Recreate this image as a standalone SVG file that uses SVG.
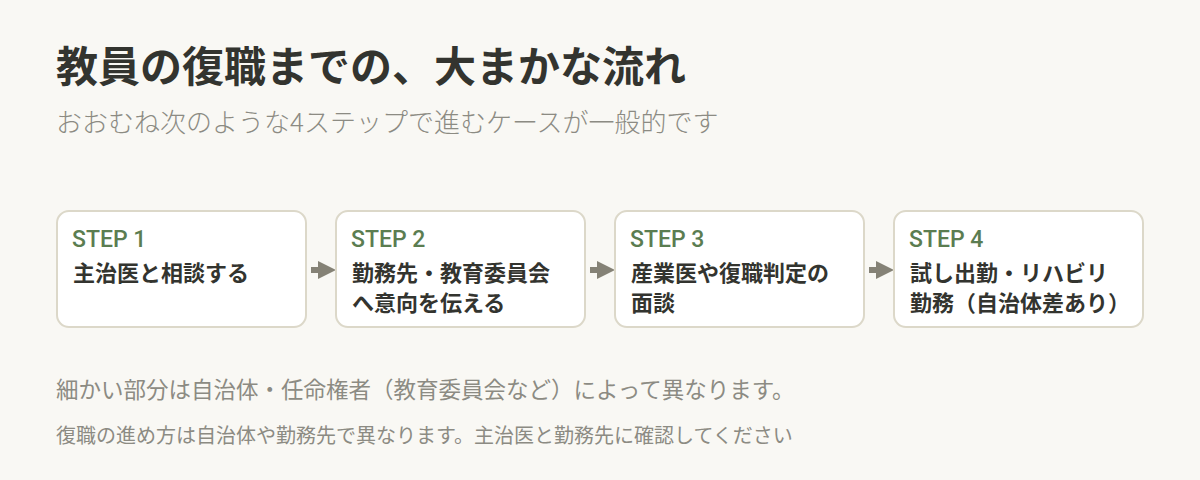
<svg xmlns="http://www.w3.org/2000/svg" width="1200" height="480" viewBox="0 0 1200 480">
<style>
  text { font-family: "Noto Sans CJK JP", "Noto Sans", sans-serif; }
  .title { font-size: 42px; font-weight: 700; fill: #33342f; }
  .sub { font-size: 26px; font-weight: 300; fill: #8c8b83; }
  .box { fill: #ffffff; stroke: #dcd8c9; stroke-width: 2; }
  .step { font-size: 23px; font-weight: 500; fill: #5b7d51; font-family: Roboto, "Liberation Sans", sans-serif; }
  .body { font-size: 22px; font-weight: 700; fill: #33342f; }
  .note { font-size: 22.5px; fill: #8c8b83; }
  .note2 { font-size: 20px; fill: #8c8b83; }
  .conn { stroke: #858276; stroke-width: 6; fill: none; }
</style>
<defs>
  <marker id="ah" markerWidth="3" markerHeight="3" refX="1" refY="1.5" orient="auto" markerUnits="strokeWidth">
    <path d="M0,0 L3,1.5 L0,3 Z" fill="#858276"/>
  </marker>
</defs>
<rect width="1200" height="480" fill="#f9f8f4"/>
<text class="title" x="56" y="82">教員の復職までの、大まかな流れ</text>
<text class="sub" x="56" y="132">おおむね次のような4ステップで進むケースが一般的です</text>

<g id="connectors">
  <line class="conn" x1="311" y1="270" x2="324" y2="270" marker-end="url(#ah)"/>
  <line class="conn" x1="590" y1="270" x2="603" y2="270" marker-end="url(#ah)"/>
  <line class="conn" x1="869" y1="270" x2="882" y2="270" marker-end="url(#ah)"/>
</g>

<g id="step1">
  <rect class="box" x="57" y="211" width="249" height="116" rx="12"/>
  <text class="step" x="72" y="247">STEP 1</text>
  <text class="body" x="73" y="281">主治医と相談する</text>
</g>
<g id="step2">
  <rect class="box" x="336" y="211" width="249" height="116" rx="12"/>
  <text class="step" x="351" y="247">STEP 2</text>
  <text class="body" x="352" y="281">勤務先・教育委員会</text>
  <text class="body" x="352" y="311">へ意向を伝える</text>
</g>
<g id="step3">
  <rect class="box" x="615" y="211" width="249" height="116" rx="12"/>
  <text class="step" x="630" y="247">STEP 3</text>
  <text class="body" x="631" y="281">産業医や復職判定の</text>
  <text class="body" x="631" y="311">面談</text>
</g>
<g id="step4">
  <rect class="box" x="894" y="211" width="249" height="116" rx="12"/>
  <text class="step" x="909" y="247">STEP 4</text>
  <text class="body" x="910" y="281">試し出勤・リハビリ</text>
  <text class="body" x="910" y="311">勤務（自治体差あり）</text>
</g>

<text class="note" x="56" y="398">細かい部分は自治体・任命権者（教育委員会など）によって異なります。</text>
<text class="note2" x="56" y="443">復職の進め方は自治体や勤務先で異なります。主治医と勤務先に確認してください</text>
</svg>
